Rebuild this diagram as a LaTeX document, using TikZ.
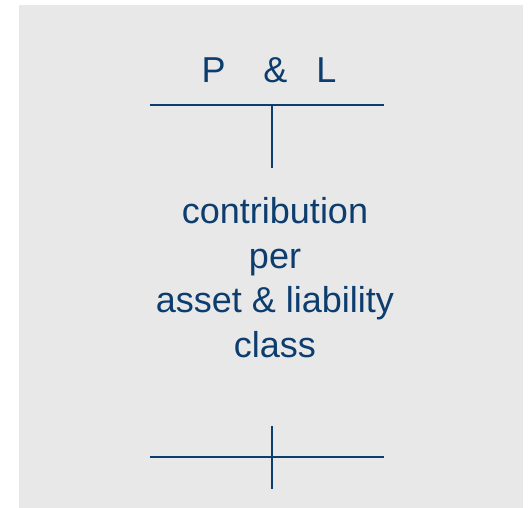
\documentclass[tikz,border=0pt]{standalone}
\usepackage{fontspec}
\setmainfont{Liberation Sans}
\usetikzlibrary{positioning}
\definecolor{navy}{RGB}{12,61,110}
\definecolor{panel}{RGB}{232,232,232}
\tikzset{
	bar/.style={draw=navy,line width=2pt},
	label/.style={text=navy,anchor=base,align=center,inner sep=0pt,
		font=\fontsize{36}{44.5}\selectfont},
}

\begin{document}
\begin{tikzpicture}[x=1pt,y=-1pt]
	\useasboundingbox (0,0) rectangle (528,508);
	\fill [panel] (19,5) rectangle (523,508);

	% heading...................
	\node [label] (pl) at (269,83) {P\hspace{1.05em}\&\hspace{0.8em}L};

	% top bar and stem...................
	\coordinate (topl) at (150,105);
	\coordinate (topr) at (384,105);
	\coordinate (topm) at (272,105);
	\coordinate (stem) at (272,168);
	\draw [bar] (topl) -- (topr);
	\draw [bar] (topm) -- (stem);

	% body text, base is the last line...................
	\node [label] (body) at (275,357) {contribution\\per\\asset \& liability\\class};

	% bottom cross...................
	\coordinate (botl) at (150,457);
	\coordinate (botr) at (384,457);
	\coordinate (bott) at (272,426);
	\coordinate (botb) at (272,489);
	\draw [bar] (botl) -- (botr);
	\draw [bar] (bott) -- (botb);
\end{tikzpicture}
\end{document}
